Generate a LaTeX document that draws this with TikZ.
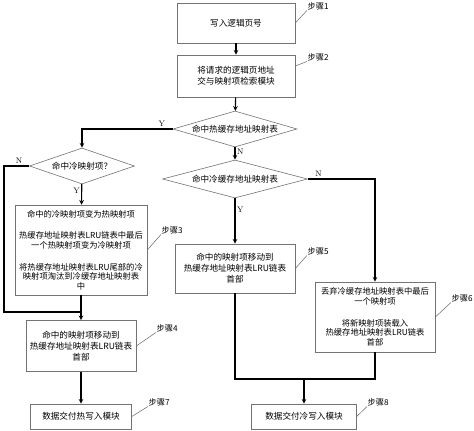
\documentclass[tikz,border=0pt]{standalone}
\usepackage{fontspec}
\newfontfamily\cjk{Noto Sans CJK SC}
\usetikzlibrary{shapes.geometric}

\begin{document}
\begin{tikzpicture}[x=1pt,y=-1pt,
		box/.style={draw=black!55,line width=0.6pt,align=center,inner sep=1pt,font=\cjk\fontsize{8.6}{11}\selectfont},
		tight/.style={font=\cjk\fontsize{8.3}{9.6}\selectfont},
		cond/.style={diamond,draw=black!55,line width=0.6pt,inner sep=0pt,aspect=3.4,font=\cjk\fontsize{8.6}{11}\selectfont},
		stp/.style={anchor=west,inner sep=0.5pt,font=\cjk\fontsize{8.2}{10}\selectfont},
		lead/.style={draw=black!60,line width=0.5pt},
		flow/.style={line width=1.1pt},
		yn/.style={font=\fontsize{8}{10}\selectfont,inner sep=1.5pt}]
		\useasboundingbox (0,0) rectangle (474,431);
		% main column
		\node[box,minimum width=118pt,minimum height=40pt] (b1) at (236,23) {写入逻辑页号};
		\node[box,minimum width=118pt,minimum height=42pt] (b2) at (236,76) {将请求的逻辑页地址\\交与映射项检索模块};
		\node[cond,minimum width=124pt,minimum height=36pt] (d1) at (235,129) {命中热缓存地址映射表};
		\node[cond,minimum width=145pt,minimum height=38pt] (d3) at (235,179) {命中冷缓存地址映射表};
		% left column
		\node[cond,minimum width=105pt,minimum height=36pt] (d2) at (82,166) {命中冷映射项？};
		\node[box,tight,minimum width=132pt,minimum height=90pt] (b3) at (81,250) {命中的冷映射项变为热映射项\\[12pt]热缓存地址映射表LRU链表中最后\\一个热映射项变为冷映射项\\[12pt]将热缓存地址映射表LRU尾部的冷\\映射项淘汰到冷缓存地址映射表\\中};
		\node[box,minimum width=110pt,minimum height=51pt] (b4) at (81,346) {命中的映射项移动到\\热缓存地址映射表LRU链表\\首部};
		\node[box,minimum width=101pt,minimum height=25pt] (b7) at (81,416.5) {数据交付热写入模块};
		% right side
		\node[box,minimum width=120pt,minimum height=49pt] (b5) at (235,268.5) {命中的映射项移动到\\热缓存地址映射表LRU链表\\首部};
		\node[box,tight,minimum width=120pt,minimum height=70pt] (b6) at (375,317) {丢弃冷缓存地址映射表中最后\\一个映射项\\[12pt]将新映射项装载入\\热缓存地址映射表LRU链表\\首部};
		\node[box,minimum width=105pt,minimum height=25pt] (b8) at (304,416.5) {数据交付冷写入模块};
		% step labels
		\node[stp] (s1) at (307,6) {步骤1};
		\node[stp] (s2) at (307,57) {步骤2};
		\node[stp] (s3) at (161,230) {步骤3};
		\node[stp] (s4) at (156,328) {步骤4};
		\node[stp] (s5) at (307,251) {步骤5};
		\node[stp] (s6) at (451,298) {步骤6};
		\node[stp] (s7) at (148,402) {步骤7};
		\node[stp] (s8) at (367,402) {步骤8};
		\path[lead]
		(b1.east) edge (s1.south west)
		([yshift=10pt]b2.east) edge (s2.south west)
		(b3.east) edge (s3.south west)
		(b4.east) edge (s4.south west)
		(b5.east) edge (s5.south west)
		(b6.east) edge (s6.south west)
		(b7.east) edge (s7.south west)
		(b8.east) edge (s8.south west);
		% junctions
		\coordinate (cl) at (4,312);
		\coordinate (jl) at (81,312);
		\coordinate (jr) at (304,379);
		% connectors
		\path[flow,-stealth]
		(b1) edge (b2)
		(b2) edge (d1)
		(d1) edge node[yn,right,pos=0.35] {N} (d3)
		(d3) edge node[yn,right,pos=0.25] {Y} (b5)
		(d2) edge node[yn,left,pos=0.3] {Y} (b3)
		(b3) edge (b4)
		(b4) edge (b7)
		(jr) edge (b8);
		\draw[flow,-stealth] (d1.west) -| node[yn,above,pos=0.06] {Y} (d2.north);
		\draw[flow,-stealth] (d3.east) -| node[yn,above,pos=0.08] {N} (b6.north);
		\draw[flow] (d2.west) -| node[yn,above,pos=0.2] {N} (cl) -- (jl);
		\draw[flow] (b5.south) |- (jr);
		\draw[flow] (b6.south) |- (jr);
\end{tikzpicture}
\end{document}
